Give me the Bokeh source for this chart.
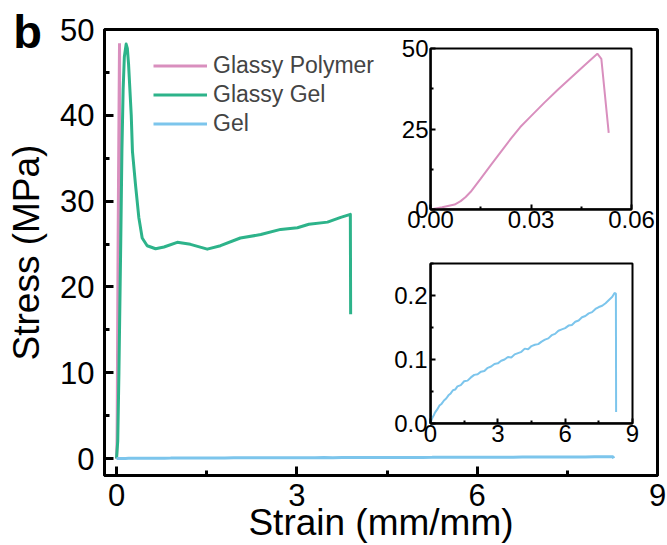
from bokeh.plotting import figure
from bokeh.models import (Range1d, FixedTicker, Legend, LegendItem,
                          PrintfTickFormatter, Span)
from bokeh.core.properties import value
from bokeh.embed import file_html
from bokeh.resources import INLINE

FONT = "Liberation Sans"
PINK = "#D98FBE"
GREEN = "#2DB38A"
BLUE = "#7CC5EC"

# Glassy polymer: strain (mm/mm) vs stress (MPa)
polymer_strain = [0.0, 0.0035, 0.0072, 0.0090, 0.0105, 0.0120, 0.0150, 0.0180,
                  0.0210, 0.0240, 0.0268, 0.0300, 0.0340, 0.0380, 0.0420,
                  0.0460, 0.0498, 0.0510, 0.0532]
polymer_stress = [0.0, 0.7, 1.55, 2.6, 3.9, 5.5, 9.6, 13.8,
                  17.9, 22.0, 25.6, 29.0, 33.2, 37.2, 41.0,
                  44.8, 48.4, 46.8, 23.8]

# Glassy gel
glassy_gel_strain = [0.0, 0.02, 0.04, 0.07, 0.09, 0.11, 0.13, 0.16, 0.18, 0.20,
                     0.245, 0.265, 0.316, 0.371, 0.427, 0.51, 0.65, 0.79, 1.01,
                     1.23, 1.51, 1.73, 2.06, 2.40, 2.73, 3.01, 3.20, 3.51,
                     3.73, 3.89, 3.895]
glassy_gel_stress = [0.0, 2.0, 10.0, 25.0, 36.0, 43.0, 46.8, 48.3, 47.8, 46.0,
                     40.0, 35.8, 31.9, 28.1, 25.7, 24.8, 24.45, 24.65, 25.2,
                     24.96, 24.4, 24.8, 25.7, 26.1, 26.7, 26.9, 27.3, 27.55,
                     28.1, 28.45, 16.8]

# Gel
gel_strain = [0.0, 0.05, 0.10, 0.15, 0.20, 0.30, 0.40, 0.50, 0.60, 0.70, 0.80,
              0.90, 1.00, 1.10, 1.20, 1.35, 1.50, 1.65, 1.80, 1.95, 2.10, 2.25,
              2.40, 2.55, 2.70, 2.85, 3.00, 3.15, 3.30, 3.45, 3.60, 3.75, 3.90,
              4.05, 4.20, 4.35, 4.50, 4.65, 4.80, 4.95, 5.10, 5.25, 5.40, 5.55,
              5.70, 5.85, 6.00, 6.15, 6.30, 6.45, 6.60, 6.75, 6.90, 7.05, 7.20,
              7.35, 7.50, 7.65, 7.80, 7.95, 8.10, 8.20, 8.26, 8.27]
gel_stress = [0.000, 0.006, 0.010, 0.013, 0.017, 0.022, 0.028, 0.031, 0.036,
              0.039, 0.044, 0.047, 0.052, 0.053, 0.058, 0.060, 0.066, 0.067,
              0.072, 0.076, 0.077, 0.081, 0.082, 0.087, 0.089, 0.093, 0.094,
              0.098, 0.100, 0.104, 0.103, 0.108, 0.110, 0.112, 0.117, 0.116,
              0.121, 0.123, 0.124, 0.128, 0.131, 0.133, 0.138, 0.140, 0.145,
              0.147, 0.149, 0.153, 0.154, 0.159, 0.161, 0.166, 0.168, 0.172,
              0.174, 0.179, 0.182, 0.184, 0.188, 0.193, 0.198, 0.204, 0.203,
              0.018]

main_x_ticks = [0, 3, 6, 9]
main_y_ticks = [0, 10, 20, 30, 40, 50]
polymer_x_ticks = [0.0, 0.03, 0.06]
polymer_y_ticks = [0, 25, 50]
gel_x_ticks = [0, 3, 6, 9]
gel_y_ticks = [0.0, 0.1, 0.2]

series_labels = ["Glassy Polymer", "Glassy Gel", "Gel"]
panel_tag = "b"


def midpoints(ticks, extra_top=False):
    mids = [(a + b) / 2 for a, b in zip(ticks, ticks[1:])]
    if extra_top:
        mids.append(ticks[-1] + (ticks[1] - ticks[0]) / 2)
    return mids


def style_axes(fig, label_size, major_in, minor_in, width):
    fig.xgrid.visible = False
    fig.ygrid.visible = False
    fig.background_fill_alpha = 0
    fig.border_fill_alpha = 0
    fig.outline_line_color = "black"
    fig.outline_line_width = width
    fig.outline_line_alpha = 1
    for ax in (fig.xaxis[0], fig.yaxis[0]):
        ax.axis_line_color = "black"
        ax.axis_line_width = width
        ax.major_tick_line_width = width
        ax.minor_tick_line_width = width
        ax.major_tick_line_color = "black"
        ax.minor_tick_line_color = "black"
        ax.major_tick_in = major_in
        ax.major_tick_out = 0
        ax.minor_tick_in = minor_in
        ax.minor_tick_out = 0
        ax.major_label_text_font = FONT
        ax.major_label_text_font_size = label_size
        ax.major_label_text_color = "black"
        ax.axis_label_text_font = FONT
        ax.axis_label_text_font_style = "normal"
        ax.axis_label_text_color = "black"
    # heavy rules along the left and bottom edges of the frame
    fig.add_layout(Span(location=fig.x_range.start, dimension="height",
                        line_color="black", line_width=width, level="overlay"))
    fig.add_layout(Span(location=fig.y_range.start, dimension="width",
                        line_color="black", line_width=width, level="overlay"))


def place(fig, left, top):
    fig.styles = {"position": "absolute", "left": f"{left}px", "top": f"{top}px"}


# ---------------- main panel ----------------
p = figure(width=667, height=545, output_backend="svg", toolbar_location=None,
           x_range=Range1d(-0.2, 9), y_range=Range1d(-1.98, 50),
           min_border_left=104, min_border_right=10, min_border_top=29,
           min_border_bottom=70)
style_axes(p, "31px", 9, 5, 3)
p.xaxis.ticker = FixedTicker(ticks=main_x_ticks, minor_ticks=midpoints(main_x_ticks))
p.yaxis.ticker = FixedTicker(ticks=main_y_ticks, minor_ticks=midpoints(main_y_ticks))
p.xaxis.axis_label = "Strain (mm/mm)"
p.yaxis.axis_label = "Stress (MPa)"
p.xaxis.axis_label_text_font_size = "37px"
p.yaxis.axis_label_text_font_size = "37px"
p.xaxis.major_label_standoff = 8
p.yaxis.major_label_standoff = 10
p.xaxis.axis_label_standoff = -7
p.yaxis.axis_label_standoff = 10

r_poly = p.line(polymer_strain, polymer_stress, line_color=PINK, line_width=3)
r_ggel = p.line(glassy_gel_strain, glassy_gel_stress, line_color=GREEN,
                line_width=3, line_join="round")
r_gel = p.line(gel_strain, gel_stress, line_color=BLUE, line_width=3)

legend = Legend(
    items=[LegendItem(label=series_labels[0], renderers=[r_poly]),
           LegendItem(label=series_labels[1], renderers=[r_ggel]),
           LegendItem(label=series_labels[2], renderers=[r_gel])],
    location=(49, 337), padding=0, spacing=0, margin=0,
    glyph_width=54, glyph_height=29, label_height=29, label_standoff=6,
    label_text_font=FONT, label_text_font_size="23px",
    label_text_baseline="middle", border_line_alpha=0,
    background_fill_alpha=0)
p.add_layout(legend)

# ---------------- panel letter ----------------
tag = figure(width=54, height=62, output_backend="svg", toolbar_location=None,
             x_range=Range1d(0, 1), y_range=Range1d(0, 1), min_border=0,
             x_axis_type=None, y_axis_type=None)
tag.grid.visible = False
tag.outline_line_color = None
tag.background_fill_alpha = 0
tag.border_fill_alpha = 0
tag.text(x=[0.5], y=[0.5], text=[panel_tag], text_font=value(FONT),
         text_font_style="bold", text_font_size="47px",
         text_baseline="middle", text_align="center", text_color="black")
place(tag, 0, 0)

# ---------------- inset: glassy polymer ----------------
ins1 = figure(width=287, height=212, output_backend="svg", toolbar_location=None,
              x_range=Range1d(0, 0.06), y_range=Range1d(0, 50),
              min_border_left=60, min_border_right=26, min_border_top=16,
              min_border_bottom=35)
style_axes(ins1, "24px", 5, 3, 2)
ins1.xaxis.ticker = FixedTicker(ticks=polymer_x_ticks,
                                minor_ticks=midpoints(polymer_x_ticks))
ins1.yaxis.ticker = FixedTicker(ticks=polymer_y_ticks,
                                minor_ticks=midpoints(polymer_y_ticks))
ins1.xaxis.formatter = PrintfTickFormatter(format="%.2f")
ins1.xaxis.major_label_standoff = 1
ins1.yaxis.major_label_standoff = 2
ins1.line(polymer_strain, polymer_stress, line_color=PINK, line_width=2)
place(ins1, 370, 32)

# ---------------- inset: gel ----------------
ins2 = figure(width=277, height=205, output_backend="svg", toolbar_location=None,
              x_range=Range1d(0, 9), y_range=Range1d(0, 0.25),
              min_border_left=60, min_border_right=15, min_border_top=10,
              min_border_bottom=35)
style_axes(ins2, "24px", 5, 3, 2)
ins2.xaxis.ticker = FixedTicker(ticks=gel_x_ticks, minor_ticks=midpoints(gel_x_ticks))
ins2.yaxis.ticker = FixedTicker(ticks=gel_y_ticks,
                                minor_ticks=midpoints(gel_y_ticks, extra_top=True))
ins2.yaxis.formatter = PrintfTickFormatter(format="%.1f")
ins2.xaxis.major_label_standoff = 1
ins2.yaxis.major_label_standoff = 3
ins2.line(gel_strain, gel_stress, line_color=BLUE, line_width=2)
place(ins2, 370, 253)

with open("out.html", "w") as f:
    f.write(file_html([p, ins1, ins2, tag], INLINE))
